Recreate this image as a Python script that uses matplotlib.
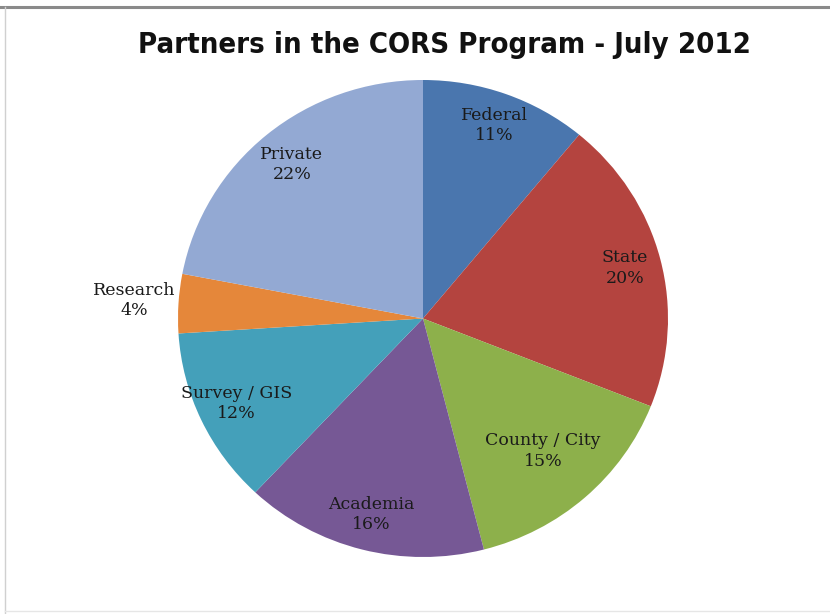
import numpy as np
import matplotlib
matplotlib.use("Agg")
import matplotlib.pyplot as plt
from matplotlib.lines import Line2D

# Data
categories = ["Federal", "State", "County / City", "Academia", "Survey / GIS", "Research", "Private"]
percents = [11, 20, 15, 16, 12, 4, 22]
title = "Partners in the CORS Program - July 2012"

# Styles
colors = ["#4A76AE", "#B4443F", "#8DB04B", "#765895", "#44A0BA", "#E5873A", "#93A9D3"]
label_dist = [0.86, 0.85, 0.74, 0.85, 0.84, 1.18, 0.84]

W, H = 830, 614
fig = plt.figure(figsize=(W / 100, H / 100), dpi=100)
fig.patch.set_facecolor("white")

# frame lines like screenshot border
fig.add_artist(Line2D([0, 1], [1 - 7 / H, 1 - 7 / H], color="#8a8a8a", lw=2.2, transform=fig.transFigure))
fig.add_artist(Line2D([5 / W, 5 / W], [0, 1 - 7 / H], color="#d0d0d0", lw=1.0, transform=fig.transFigure))
fig.add_artist(Line2D([5 / W, 1], [3 / H, 3 / H], color="#e6e6e6", lw=1.0, transform=fig.transFigure))

# Pie axes: pixel box x 178..668, y 80..557 (from top)
left, right, top, bottom = 178, 668, 80, 557
ax = fig.add_axes([left / W, 1 - bottom / H, (right - left) / W, (bottom - top) / H])
ax.axis("off")

wedges, _ = ax.pie(percents, colors=colors, startangle=90, counterclock=False,
                   radius=1, center=(0, 0), frame=False,
                   wedgeprops=dict(linewidth=0))
ax.set_xlim(-1, 1)
ax.set_ylim(-1, 1)
ax.set_aspect("auto")

for w, cat, p, d in zip(wedges, categories, percents, label_dist):
    ang = np.deg2rad((w.theta1 + w.theta2) / 2)
    x, y = d * np.cos(ang), d * np.sin(ang)
    ax.text(x, y, f"{cat}\n{p}%", ha="center", va="center",
            fontsize=12.5, family="DejaVu Serif", color="#1a1a1a",
            linespacing=1.25)

fig.text(0.5355, 1 - 45 / H, title, ha="center", va="center",
         fontsize=21, fontweight="bold", family="DejaVu Sans",
         fontstretch="condensed", color="#111111")

fig.savefig("out.png", dpi=100, facecolor="white")
